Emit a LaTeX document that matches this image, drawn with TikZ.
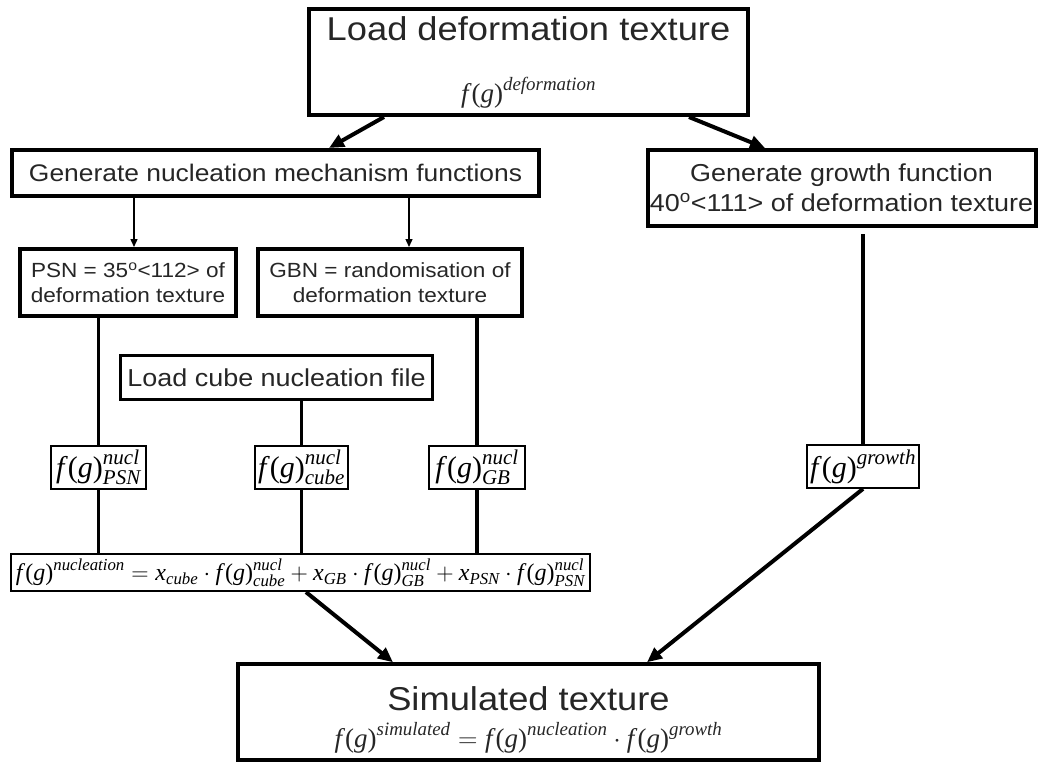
\documentclass[tikz,border=0pt]{standalone}
\usepackage{fix-cm}
\usepackage{amsmath}
\usepackage[no-math]{fontspec}
\setmainfont[FakeStretch=1.1]{Liberation Sans}
\newfontfamily\timesfont{Liberation Serif}
\usepackage{tikz}
\usetikzlibrary{arrows.meta}
\usepackage{xcolor}
\newcommand{\fsize}[2]{\fontsize{#1}{#2}\selectfont}
\newcommand{\tmi}[1]{\text{\timesfont\itshape #1}}
\newcommand{\fg}{\text{\timesfont\itshape f\/\upshape(\itshape g\/\upshape)}}
\tikzset{
    textbox/.style={
        draw,
        line width=4pt,
        inner sep=0pt,
        align=center,
        text=black!85
    },
    formbox/.style={
        draw,
        line width=1.7pt,
        inner sep=0pt,
        font=\fsize{30}{34}
    },
    link/.style={line width=3.3pt},
    bigarrow/.style={line width=4pt,-{Triangle[length=15pt,width=13pt]}},
    smallarrow/.style={line width=1.4pt,-{Triangle[length=8pt,width=7pt]}}
}

\begin{document}
\begin{tikzpicture}[x=1pt,y=-1pt]
        \useasboundingbox (0,0) rectangle (1039,763);
        % deformation
        \node[textbox,minimum width=439pt,minimum height=106pt,font=\fsize{33}{62}] (ld) at (528.5,62)
            {Load deformation texture\\{\fsize{27}{62}$\fg^{\tmi{deformation}}$}};
        \node[textbox,minimum width=527pt,minimum height=46pt,font=\fsize{24}{30}] (gen) at (275.5,173)
            {Generate nucleation mechanism functions};
        \node[textbox,minimum width=388pt,minimum height=76pt,font=\fsize{24.5}{30}] (grow) at (841.5,188)
            {Generate growth function\\40\textsuperscript{o}<111> of deformation texture};
        % nucleation mechanisms
        \node[textbox,minimum width=216pt,minimum height=67pt,font=\fsize{20.5}{25}] (psn) at (128,282.5)
            {PSN = 35\textsuperscript{o}<112> of\\deformation texture};
        \node[textbox,minimum width=264pt,minimum height=67pt,font=\fsize{20.5}{25}] (gbn) at (390,282.5)
            {GBN = randomisation of\\deformation texture};
        \node[textbox,line width=3pt,minimum width=312pt,minimum height=44pt,font=\fsize{24.5}{30}] (cube) at (276.5,377.5)
            {Load cube nucleation file};
        % functions
        \node[formbox,minimum width=95pt,minimum height=43pt] (fpsn) at (98.5,467.5)
            {$\fg^{\tmi{nucl}}_{\tmi{PSN}}$};
        \node[formbox,minimum width=93pt,minimum height=43pt] (fcube) at (301.5,467.5)
            {$\fg^{\tmi{nucl}}_{\tmi{cube}}$};
        \node[formbox,minimum width=96pt,minimum height=43pt] (fgb) at (477,467.5)
            {$\fg^{\tmi{nucl}}_{\tmi{GB}}$};
        \node[formbox,minimum width=112pt,minimum height=43pt] (fgrow) at (863,466.5)
            {$\fg^{\tmi{growth}}$};
        \node[formbox,line width=2.2pt,minimum width=579pt,minimum height=37pt,font=\fsize{24}{28}] (nuc) at (300.5,572.5)
            {$\fg^{\tmi{nucleation}}=\tmi{x}_{\tmi{cube}}\cdot\fg^{\tmi{nucl}}_{\tmi{cube}}
             +\tmi{x}_{\tmi{GB}}\cdot\fg^{\tmi{nucl}}_{\tmi{GB}}
             +\tmi{x}_{\tmi{PSN}}\cdot\fg^{\tmi{nucl}}_{\tmi{PSN}}$};
        % result
        \node[textbox,line width=3.5pt,minimum width=581pt,minimum height=96pt,font=\fsize{33}{37}] (sim) at (528.5,712)
            {\rule{0pt}{40pt}Simulated texture\\{\fsize{27}{37}$\fg^{\tmi{simulated}}=\fg^{\tmi{nucleation}}\cdot\fg^{\tmi{growth}}$}};
        % arrows
        \draw[bigarrow] ([xshift=-144.5pt]ld.south) -- ([xshift=53.5pt]gen.north);
        \draw[bigarrow] ([xshift=160.5pt]ld.south) -- ([xshift=-76.5pt]grow.north);
        \draw[smallarrow] ([xshift=-141.5pt]gen.south) -- ([xshift=6pt]psn.north);
        \draw[smallarrow] ([xshift=133.5pt]gen.south) -- ([xshift=19pt]gbn.north);
        \draw[bigarrow] ([xshift=5.5pt]nuc.south) -- ([xshift=-135.5pt]sim.north);
        \draw[bigarrow] (fgrow.south) -- ([xshift=118.5pt]sim.north);
        % links
        \draw[link] (psn.south -| fpsn) -- (fpsn.north);
        \draw[link] (cube.south -| fcube) -- (fcube.north);
        \draw[link] (gbn.south -| fgb) -- (fgb.north);
        \draw[link,shorten <=6pt] (grow.south -| fgrow) -- (fgrow.north);
        \draw[link] (fpsn.south) -- (nuc.north -| fpsn);
        \draw[link] (fcube.south) -- (nuc.north -| fcube);
        \draw[link] (fgb.south) -- (nuc.north -| fgb);
    \end{tikzpicture}
\end{document}
